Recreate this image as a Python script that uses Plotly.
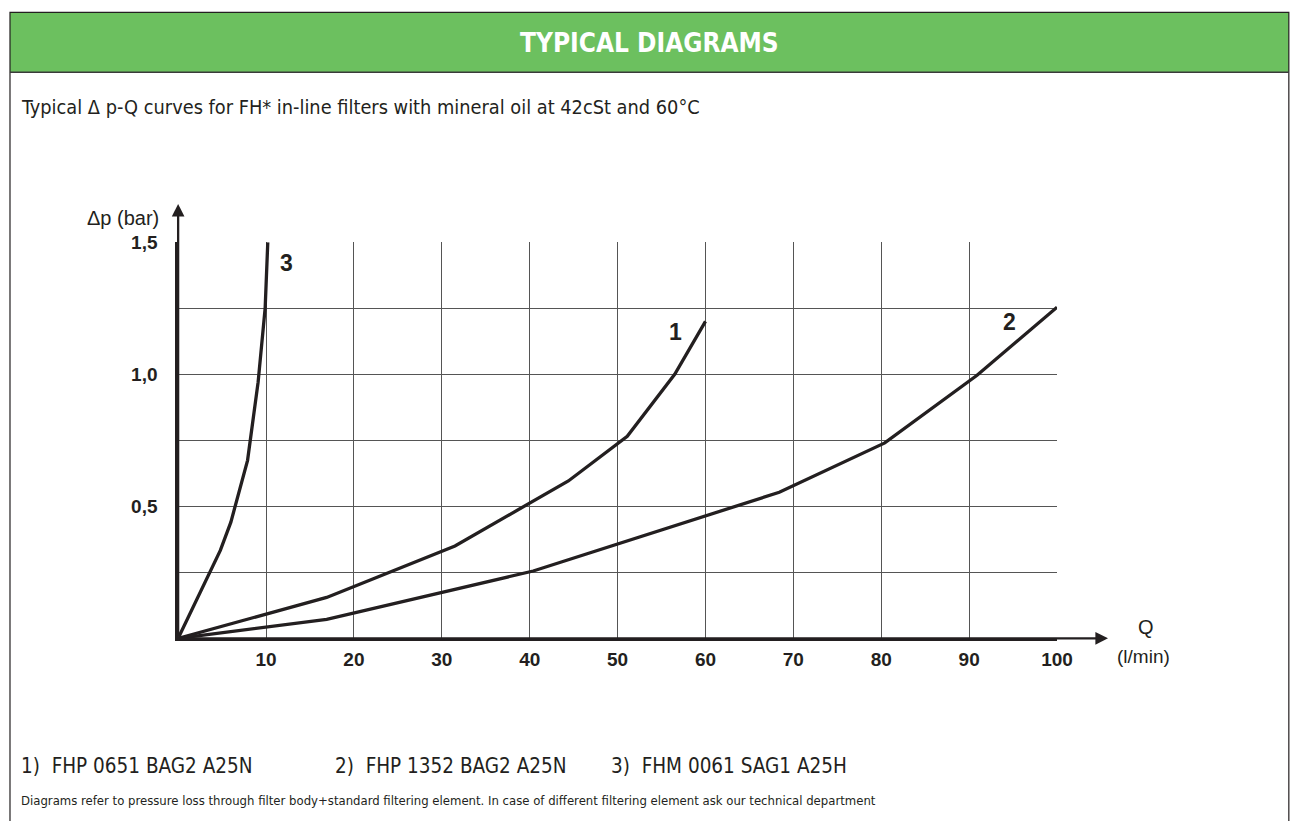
import plotly.graph_objects as go

# Layout calibration: reference pixel -> figure pixel
S = 0.9887      # observed render scale
DY = 9.7        # observed vertical offset of the figure in the page
W, H = 1312, 821

# ---- data ----
q1 = [0, 16.9, 31.5, 44.4, 51.1, 56.5, 60.0]
dp1 = [0, 0.155, 0.35, 0.596, 0.765, 1.0, 1.2]
q2 = [0, 16.9, 40.4, 68.4, 80.4, 90.9, 100.0]
dp2 = [0, 0.072, 0.255, 0.553, 0.74, 0.996, 1.254]
q3 = [0, 4.8, 6.0, 7.9, 9.1, 9.9, 10.2]
dp3 = [0, 0.333, 0.44, 0.674, 0.97, 1.25, 1.5]
curve_names = ["1", "2", "3"]
x_tickvals = [10, 20, 30, 40, 50, 60, 70, 80, 90, 100]
x_ticktext = ["10", "20", "30", "40", "50", "60", "70", "80", "90", "100"]
y_tickvals = [0.25, 0.5, 0.75, 1.0, 1.25, 1.5]
y_ticktext = ["", "0,5", "", "1,0", "", "1,5"]
legend_items = ["1)  FHP 0651 BAG2 A25N", "2)  FHP 1352 BAG2 A25N", "3)  FHM 0061 SAG1 A25H"]

def px(x):
    return (x / S) / W

def py(y):
    return 1 - (y / S - DY) / H

COND = "Liberation Sans Narrow, DejaVu Sans Condensed, Arial Narrow, sans-serif"
ARIAL = "Liberation Sans, Arial, sans-serif"
LINE = "#231f20"

fig = go.Figure()
for q, dp, nm in [(q1, dp1, curve_names[0]), (q2, dp2, curve_names[1]), (q3, dp3, curve_names[2])]:
    fig.add_trace(go.Scatter(x=q, y=dp, mode="lines", name=nm,
                             line=dict(color=LINE, width=3.3), showlegend=False,
                             hoverinfo="x+y"))

x0p, x1p = 178.3, 1058.0
y0p, y1p = 638.5, 242.0

fig.update_layout(
    width=W, height=H,
    margin=dict(l=0, r=0, t=0, b=0),
    paper_bgcolor="white", plot_bgcolor="white",
    xaxis=dict(domain=[px(x0p), px(x1p)], range=[0, 100], tickvals=x_tickvals,
               ticktext=x_ticktext, showgrid=True, gridcolor="#555555", gridwidth=1.2,
               zeroline=False, showline=True, linecolor=LINE, linewidth=2.6,
               ticks="", ticklabelstandoff=2,
               tickfont=dict(family=ARIAL, size=19, color=LINE, weight="bold")),
    yaxis=dict(domain=[py(y0p), py(y1p)], range=[0, 1.5], tickvals=y_tickvals,
               ticktext=y_ticktext, showgrid=True, gridcolor="#555555", gridwidth=1.2,
               zeroline=False, showline=True, linecolor=LINE, linewidth=2.6,
               ticks="", ticklabelstandoff=14,
               tickfont=dict(family=ARIAL, size=19, color=LINE, weight="bold")),
    font=dict(family=ARIAL, color=LINE),
)

shapes = []
shapes.append(dict(type="rect", xref="paper", yref="paper", x0=px(10), x1=px(1290),
                   y0=py(72), y1=py(12), fillcolor="#6cc05f", line=dict(width=0), layer="below"))
shapes.append(dict(type="path", xref="paper", yref="paper",
                   path=f"M {px(10)} {py(840)} L {px(10)} {py(12)} L {px(1290)} {py(12)} L {px(1290)} {py(840)}",
                   line=dict(color=LINE, width=1.2)))
shapes.append(dict(type="line", xref="paper", yref="paper", x0=px(10), x1=px(1290),
                   y0=py(72), y1=py(72), line=dict(color="#3a3a3a", width=1.5)))
fig.update_layout(shapes=shapes)

ann = []
ann.append(dict(xref="paper", yref="paper", x=px(650), y=py(43), text="<b>TYPICAL DIAGRAMS</b>",
                showarrow=False, font=dict(family=COND, size=26, color="white"),
                xanchor="center", yanchor="middle"))
ann.append(dict(xref="paper", yref="paper", x=px(19), y=py(107),
                text="Typical \u0394 p-Q curves for FH* in-line filters with mineral oil at 42cSt and 60\u00b0C",
                showarrow=False, font=dict(family=COND, size=19.8, color=LINE),
                xanchor="left", yanchor="middle"))
ann.append(dict(x=0, y=1.645, xref="x", yref="y", ax=0, ay=0, axref="x", ayref="y",
                showarrow=True, arrowhead=2, arrowsize=1.1, arrowwidth=2.3, arrowcolor=LINE, text=""))
ann.append(dict(x=105.8, y=0, xref="x", yref="y", ax=0, ay=0, axref="x", ayref="y",
                showarrow=True, arrowhead=2, arrowsize=1.1, arrowwidth=2.3, arrowcolor=LINE, text=""))
ann.append(dict(xref="paper", yref="paper", x=px(161), y=py(218), text="\u0394p (bar)",
                showarrow=False, font=dict(family=ARIAL, size=20, color=LINE),
                xanchor="right", yanchor="middle"))
ann.append(dict(xref="paper", yref="paper", x=px(1147), y=py(627), text="Q",
                showarrow=False, font=dict(family=ARIAL, size=20, color=LINE),
                xanchor="center", yanchor="middle"))
ann.append(dict(xref="paper", yref="paper", x=px(1145), y=py(657), text="(l/min)",
                showarrow=False, font=dict(family=ARIAL, size=19, color=LINE),
                xanchor="center", yanchor="middle"))
for nm, q, dp, dx, dy in [(curve_names[0], q1, dp1, -30, -11), (curve_names[1], q2, dp2, -48, -15),
                          (curve_names[2], q3, dp3, 19, -21)]:
    ann.append(dict(x=q[-1], y=dp[-1], xref="x", yref="y", text=f"<b>{nm}</b>",
                    showarrow=False, xshift=dx, yshift=dy,
                    font=dict(family=ARIAL, size=23, color=LINE)))
for txt, xpos in zip(legend_items, [19, 333, 610]):
    ann.append(dict(xref="paper", yref="paper", x=px(xpos), y=py(766), text=txt,
                    showarrow=False, font=dict(family=COND, size=20.5, color=LINE),
                    xanchor="left", yanchor="middle"))
ann.append(dict(xref="paper", yref="paper", x=px(19), y=py(801),
                text="Diagrams refer to pressure loss through filter body+standard filtering element. In case of different filtering element ask our technical department",
                showarrow=False, font=dict(family=COND, size=13, color=LINE),
                xanchor="left", yanchor="middle"))
fig.update_layout(annotations=ann)

fig.write_html("out.html", config={"displayModeBar": False},
               post_script="document.body.style.margin='0';document.body.style.overflow='hidden';")
